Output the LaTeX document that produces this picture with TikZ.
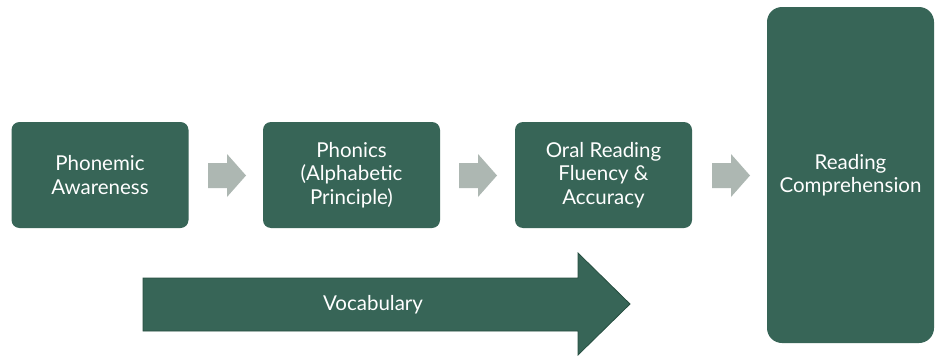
\documentclass[tikz,border=0pt]{standalone}
\usepackage{fontspec}
\setmainfont{Lato}
\definecolor{boxgreen}{RGB}{55,101,87}
\definecolor{edgegreen}{RGB}{38,78,64}
\definecolor{arrowgray}{RGB}{173,183,178}
\begin{document}
\begin{tikzpicture}[x=1pt,y=-1pt,
  stepbox/.style={fill=boxgreen, draw=none, rounded corners=8pt, text=white,
    align=center, inner sep=0pt, font=\fontsize{20.5}{23.5}\selectfont},
  grayarrow/.style={fill=arrowgray, draw=none}]
\useasboundingbox (0,0) rectangle (935,356);
\fill[white] (0,0) rectangle (935,356);
\node[stepbox, minimum width=177pt, minimum height=106pt] (pa) at (100,175) {Phonemic\\Awareness};
\node[stepbox, minimum width=177pt, minimum height=106pt] (ph) at (351.5,175) {Phonics\\(Alphabetic\\Principle)};
\node[stepbox, minimum width=177pt, minimum height=106pt] (or) at (603.5,175) {Oral Reading\\Fluency \&\\Accuracy};
\node[stepbox, rounded corners=15pt, minimum width=167pt, minimum height=336pt] (rc) at (850.5,175) {Reading\\Comprehension};
% gray connector arrows
\foreach \x in {208,459,712}{
  \fill[grayarrow] (\x,163) -- (\x+19,163) -- (\x+19,154) -- (\x+38,175.5) -- (\x+19,197) -- (\x+19,188) -- (\x,188) -- cycle;
}
% vocabulary arrow
\draw[fill=boxgreen, draw=edgegreen, line width=0.8pt] (143,278) -- (578,278) -- (578,253) -- (630,304) -- (578,355) -- (578,331) -- (143,331) -- cycle;
\node[text=white, font=\fontsize{20.5}{23.5}\selectfont] (voc) at (373,305) {Vocabulary};
\end{tikzpicture}
\end{document}
